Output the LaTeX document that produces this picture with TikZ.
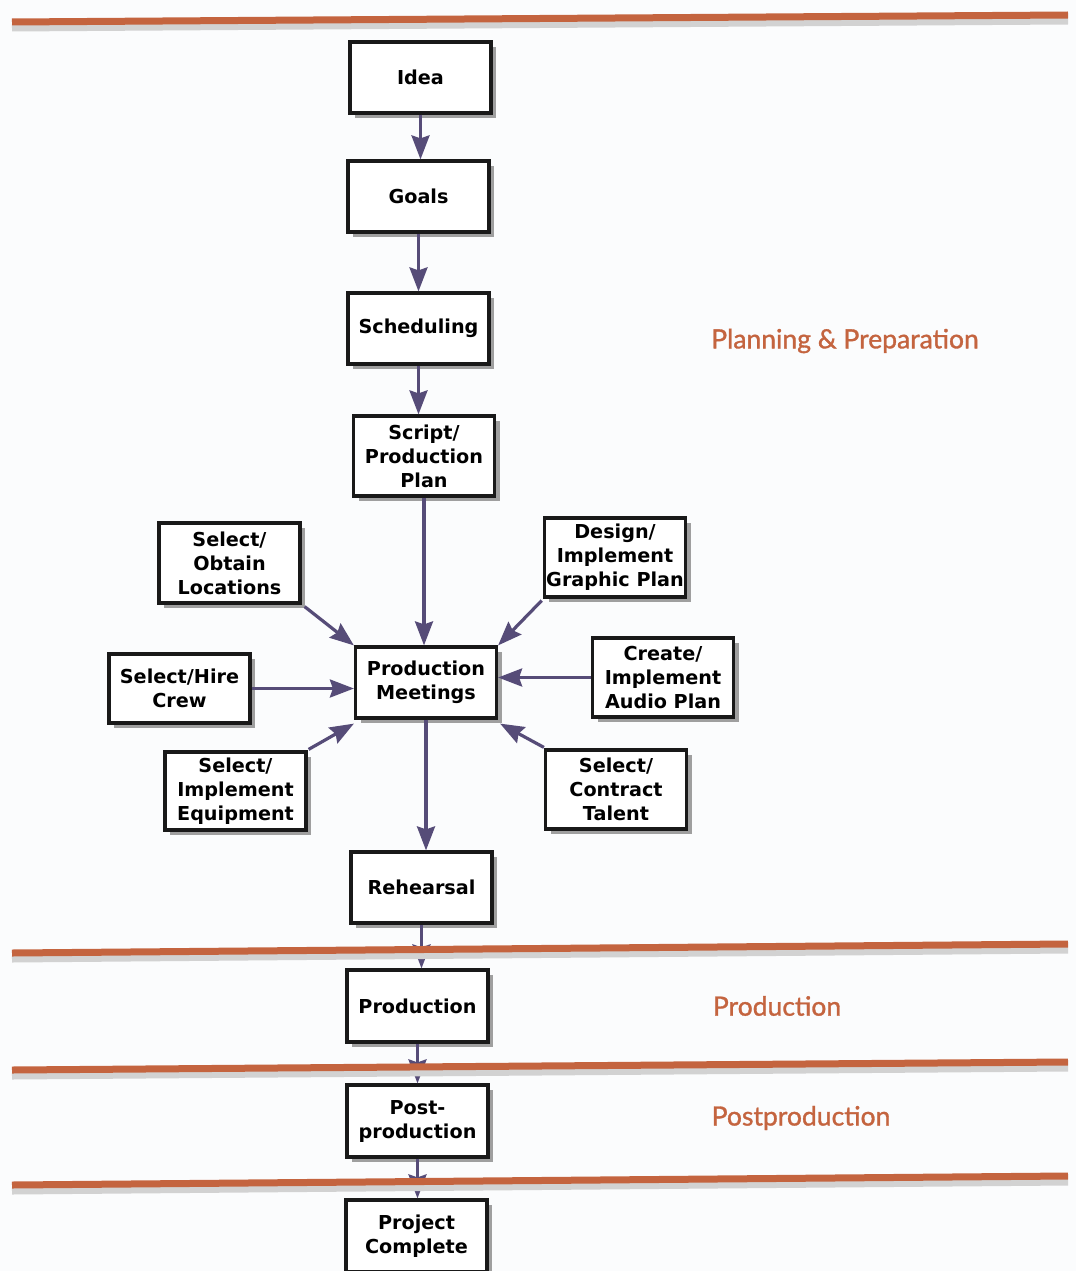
\documentclass[tikz,border=0pt]{standalone}
\usepackage{fontspec}
\setmainfont{DejaVu Sans}
\newfontfamily\labelfont[FakeBold=1.2]{Lato}
\usetikzlibrary{arrows.meta,shadows}
\definecolor{rust}{HTML}{C4643F}
\definecolor{arrowc}{HTML}{564C78}
\definecolor{bgc}{HTML}{FBFCFD}
\tikzset{
  box/.style={draw=black!90, line width=3.2pt, fill=white, minimum width=141pt, minimum height=71pt,
    align=center, inner sep=2pt, font=\bfseries\fontsize{19.2}{24}\selectfont,
    drop shadow={shadow xshift=5pt, shadow yshift=-5pt, fill=gray!75, opacity=1}},
  conn/.style={draw=arrowc, line width=3.2pt, -{Stealth[length=24pt,width=18pt,inset=3pt]}},
  stage/.style={text=rust, font=\labelfont\fontsize{26.5}{30}\selectfont, anchor=center},
  band/.style={draw=rust, line width=7pt},
  bandshadow/.style={draw=gray!35, line width=7pt}
}
\begin{document}
\begin{tikzpicture}[x=1pt,y=-1pt]
\fill[bgc] (0,0) rectangle (1076,1271);
\useasboundingbox (0,0) rectangle (1076,1271);
% nodes
\node[box] (idea) at (420.5,77.5) {Idea};
\node[box] (goals) at (418.5,196.5) {Goals};
\node[box] (sched) at (418.5,328.5) {Scheduling};
\node[box, minimum height=80pt] (script) at (424,456) {Script/\\Production\\Plan};
\node[box, minimum height=80pt] (loc) at (229.5,563) {Select/\\Obtain\\Locations};
\node[box, minimum height=79pt] (graph) at (615,557.5) {Design/\\Implement\\Graphic Plan};
\node[box, minimum height=69pt] (crew) at (179.5,688.5) {Select/Hire\\Crew};
\node[box] (meet) at (426,682.5) {Production\\Meetings};
\node[box, minimum height=79pt] (audio) at (663,677.5) {Create/\\Implement\\Audio Plan};
\node[box, minimum height=78pt] (equip) at (235.5,791) {Select/\\Implement\\Equipment};
\node[box, minimum height=79pt] (talent) at (616,789.5) {Select/\\Contract\\Talent};
\node[box] (reh) at (421.5,887.5) {Rehearsal};
\node[box, minimum height=72pt] (prod) at (417.5,1006) {Production};
\node[box, minimum height=72pt] (post) at (417.5,1121) {Post-\\production};
\node[box, minimum height=72pt] (proj) at (416.5,1236) {Project\\Complete};
% connectors
\draw[conn] (idea) -- (idea |- goals.north);
\draw[conn] (goals) -- (goals |- sched.north);
\draw[conn] (sched) -- (sched |- script.north);
\draw[conn] (script) -- (script |- meet.north);
\draw[conn] ([shift={(3pt,-2pt)}]loc.south east) -- (meet.north west);
\draw[conn] ([shift={(-1pt,-2pt)}]graph.south west) -- (meet.north east);
\draw[conn] (crew) -- (crew -| meet.west);
\draw[conn] (audio) -- (audio -| meet.east);
\draw[conn] ([shift={(1pt,1pt)}]equip.north east) -- ([yshift=-4pt]meet.south west);
\draw[conn] ([shift={(0pt,1pt)}]talent.north west) -- ([shift={(2pt,-4pt)}]meet.south east);
\draw[conn] (meet) -- (meet |- reh.north);
\draw[conn] (reh) -- (reh |- prod.north);
\draw[conn] (prod) -- (prod |- post.north);
\draw[conn] (post) -- (post |- proj.north);
% bands
\coordinate (b1l) at (12,22); \coordinate (b1r) at (1068,15);
\coordinate (b2l) at (12,953); \coordinate (b2r) at (1068,944);
\coordinate (b3l) at (12,1070); \coordinate (b3r) at (1068,1062);
\coordinate (b4l) at (12,1185); \coordinate (b4r) at (1068,1176);
\foreach \a/\b in {b1l/b1r,b2l/b2r,b3l/b3r,b4l/b4r}{
  \draw[bandshadow] ([yshift=-6pt]\a) -- ([yshift=-6pt]\b);
  \draw[band] (\a) -- (\b);
}
% stage labels
\node[stage] (lplan) at (845,341) {Planning \& Preparation};
\node[stage] (lprod) at (777,1006) {Production};
\node[stage] (lpost) at (801,1118) {Postproduction};
\end{tikzpicture}
\end{document}
